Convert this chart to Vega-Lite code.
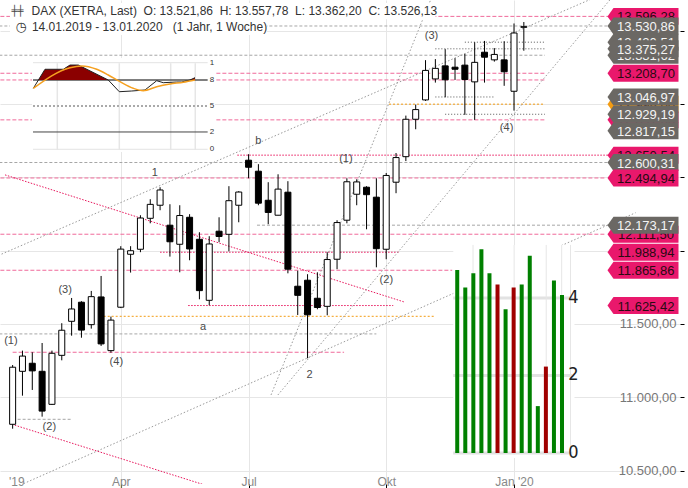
{
"$schema": "https://vega.github.io/schema/vega-lite/v6.json",
"width": 680, "height": 484,
"autosize": {"type": "none"},
"padding": {"left": 0, "top": 0, "right": 8, "bottom": 4},
"background": "white",
"config": {
  "view": {"stroke": null},
  "font": "Liberation Sans",
  "locale": {"number": {"decimal": ",", "thousands": ".", "grouping": [3], "currency": ["", " €"]}}
},
"datasets": {
  "one": [{}],
  "candles": [
    {"date":"2019-01-14","open":10816,"high":11220,"low":10786,"close":11205},
    {"date":"2019-01-21","open":11177,"high":11318,"low":11011,"close":11281},
    {"date":"2019-01-28","open":11232,"high":11307,"low":11050,"close":11180},
    {"date":"2019-02-04","open":11177,"high":11370,"low":10868,"close":10906},
    {"date":"2019-02-11","open":10952,"high":11318,"low":10948,"close":11300},
    {"date":"2019-02-18","open":11286,"high":11505,"low":11252,"close":11457},
    {"date":"2019-02-25","open":11518,"high":11677,"low":11420,"close":11602},
    {"date":"2019-03-04","open":11648,"high":11655,"low":11406,"close":11458},
    {"date":"2019-03-11","open":11495,"high":11725,"low":11468,"close":11686},
    {"date":"2019-03-18","open":11684,"high":11827,"low":11350,"close":11364},
    {"date":"2019-03-25","open":11318,"high":11550,"low":11304,"close":11526},
    {"date":"2019-04-01","open":11614,"high":12030,"low":11608,"close":12010},
    {"date":"2019-04-08","open":11975,"high":12030,"low":11850,"close":11999},
    {"date":"2019-04-15","open":12009,"high":12241,"low":11989,"close":12222},
    {"date":"2019-04-22","open":12220,"high":12350,"low":12186,"close":12315},
    {"date":"2019-04-29","open":12309,"high":12432,"low":12275,"close":12413},
    {"date":"2019-05-06","open":12173,"high":12316,"low":11959,"close":12060},
    {"date":"2019-05-13","open":12043,"high":12309,"low":11852,"close":12239},
    {"date":"2019-05-20","open":12227,"high":12248,"low":11934,"close":12011},
    {"date":"2019-05-27","open":12077,"high":12125,"low":11668,"close":11727},
    {"date":"2019-06-03","open":11661,"high":12098,"low":11627,"close":12045},
    {"date":"2019-06-10","open":12132,"high":12227,"low":12057,"close":12096},
    {"date":"2019-06-17","open":12111,"high":12439,"low":11995,"close":12340},
    {"date":"2019-06-24","open":12309,"high":12405,"low":12193,"close":12399},
    {"date":"2019-07-01","open":12616,"high":12657,"low":12493,"close":12568},
    {"date":"2019-07-08","open":12541,"high":12589,"low":12309,"close":12323},
    {"date":"2019-07-15","open":12343,"high":12466,"low":12180,"close":12260},
    {"date":"2019-07-22","open":12241,"high":12520,"low":12241,"close":12419},
    {"date":"2019-07-29","open":12398,"high":12473,"low":11845,"close":11873},
    {"date":"2019-08-05","open":11757,"high":11863,"low":11561,"close":11695},
    {"date":"2019-08-12","open":11798,"high":11839,"low":11266,"close":11562},
    {"date":"2019-08-19","open":11675,"high":11852,"low":11600,"close":11612},
    {"date":"2019-08-26","open":11620,"high":11989,"low":11559,"close":11939},
    {"date":"2019-09-02","open":11941,"high":12207,"low":11873,"close":12191},
    {"date":"2019-09-09","open":12207,"high":12493,"low":12186,"close":12469},
    {"date":"2019-09-16","open":12384,"high":12486,"low":12309,"close":12468},
    {"date":"2019-09-23","open":12432,"high":12439,"low":12145,"close":12381},
    {"date":"2019-09-30","open":12364,"high":12493,"low":11886,"close":12013},
    {"date":"2019-10-07","open":12009,"high":12529,"low":11941,"close":12512},
    {"date":"2019-10-14","open":12466,"high":12665,"low":12391,"close":12634},
    {"date":"2019-10-21","open":12640,"high":12920,"low":12610,"close":12895},
    {"date":"2019-10-28","open":12895,"high":12995,"low":12827,"close":12961},
    {"date":"2019-11-04","open":13027,"high":13298,"low":13020,"close":13228},
    {"date":"2019-11-11","open":13170,"high":13305,"low":13145,"close":13242},
    {"date":"2019-11-18","open":13259,"high":13373,"low":13045,"close":13164},
    {"date":"2019-11-25","open":13250,"high":13311,"low":13163,"close":13236},
    {"date":"2019-12-02","open":13264,"high":13341,"low":12925,"close":13166},
    {"date":"2019-12-09","open":13150,"high":13420,"low":12891,"close":13283},
    {"date":"2019-12-16","open":13352,"high":13429,"low":13145,"close":13318},
    {"date":"2019-12-23","open":13300,"high":13380,"low":13288,"close":13337},
    {"date":"2019-12-30","open":13300,"high":13427,"low":13123,"close":13219},
    {"date":"2020-01-06","open":13086,"high":13548,"low":12954,"close":13483},
    {"date":"2020-01-13","open":13521.86,"high":13557.78,"low":13362.20,"close":13526.13}
  ],
  "hlines": [
    {"start":"2019-01-01","end":"2020-03-15","value":13596.28,"style":"pinkdash"},
    {"start":"2019-01-01","end":"2020-03-15","value":13530.86,"style":"graydash"},
    {"start":"2019-12-02","end":"2020-01-28","value":13420.51,"style":"blackdot"},
    {"start":"2019-11-11","end":"2020-01-28","value":13375.27,"style":"blackdot"},
    {"start":"2019-01-01","end":"2020-01-28","value":13331.62,"style":"graydash"},
    {"start":"2019-01-01","end":"2020-01-28","value":13208.70,"style":"pinkdash"},
    {"start":"2019-01-01","end":"2020-01-28","value":13163,"style":"pinkdash"},
    {"start":"2019-11-11","end":"2019-12-23","value":13046.97,"style":"blackdot"},
    {"start":"2019-10-09","end":"2020-01-28","value":12998,"style":"orangedot"},
    {"start":"2019-11-18","end":"2020-01-28","value":12929.19,"style":"blackdot"},
    {"start":"2019-01-01","end":"2020-01-28","value":12891,"style":"pinkdash"},
    {"start":"2019-06-23","end":"2020-03-15","value":12650.54,"style":"pinkdot"},
    {"start":"2019-01-01","end":"2020-03-15","value":12600.31,"style":"graydash"},
    {"start":"2019-01-01","end":"2020-03-11","value":12494.94,"style":"pinkdash"},
    {"start":"2019-07-07","end":"2020-03-15","value":12173.17,"style":"graydash"},
    {"start":"2019-01-01","end":"2020-03-11","value":12111.50,"style":"pinkdash"},
    {"start":"2019-04-29","end":"2019-10-16","value":11988.94,"style":"pinkdot"},
    {"start":"2019-01-01","end":"2019-11-23","value":11865.86,"style":"pinkdash"},
    {"start":"2019-05-19","end":"2019-10-12","value":11625.42,"style":"pinkdot"},
    {"start":"2019-03-17","end":"2019-11-11","value":11552,"style":"orangedot"},
    {"start":"2019-01-01","end":"2019-09-30","value":11432,"style":"graydash"},
    {"start":"2019-01-14","end":"2019-09-07","value":11307,"style":"pinkdash"},
    {"start":"2019-01-14","end":"2019-02-25","value":10850,"style":"graydash"}
  ],
  "dlines": [
    {"id":"d1","style":"graydot","date":"2019-01-01T13:00:00Z","value":11957},
    {"id":"d1","style":"graydot","date":"2020-03-04T12:00:00Z","value":13729},
    {"id":"d2","style":"graydot","date":"2018-12-25T13:00:00Z","value":10296},
    {"id":"d2","style":"graydot","date":"2020-04-01T13:40:00Z","value":12258},
    {"id":"d3","style":"pinkdot","date":"2019-01-08T14:00:00Z","value":12516},
    {"id":"d3","style":"pinkdot","date":"2019-10-19T17:00:00Z","value":11650},
    {"id":"d4","style":"pinkdot","date":"2019-01-13T12:00:00Z","value":10816},
    {"id":"d4","style":"pinkdot","date":"2019-06-11T21:00:00Z","value":10366},
    {"id":"s1","style":"graydot","date":"2019-07-16T23:45:00Z","value":11016},
    {"id":"s1","style":"graydot","date":"2019-11-07T15:30:00Z","value":13709},
    {"id":"s2","style":"graydot","date":"2019-07-21T21:00:00Z","value":11016},
    {"id":"s2","style":"graydot","date":"2020-03-14T07:00:00Z","value":13709}
  ],
  "waves": [
    {"date":"2019-01-12T19:00:00Z","value":11384,"label":"(1)"},
    {"date":"2019-02-09T03:00:00Z","value":10797,"label":"(2)"},
    {"date":"2019-02-20T09:00:00Z","value":11732,"label":"(3)"},
    {"date":"2019-03-28T20:00:00Z","value":11241,"label":"(4)"},
    {"date":"2019-04-25T05:00:00Z","value":12529,"label":"1"},
    {"date":"2019-05-29T14:00:00Z","value":11480,"label":"a"},
    {"date":"2019-07-07T22:00:00Z","value":12748,"label":"b"},
    {"date":"2019-08-13T10:00:00Z","value":11152,"label":"2"},
    {"date":"2019-09-08T07:00:00Z","value":12625,"label":"(1)"},
    {"date":"2019-10-07T02:00:00Z","value":11800,"label":"(2)"},
    {"date":"2019-11-08T07:00:00Z","value":13464,"label":"(3)"},
    {"date":"2019-12-31T17:00:00Z","value":12837,"label":"(4)"}
  ],
  "tags": [
    {"value":13596.28,"kind":"pink","z":0},
    {"value":13420.51,"kind":"gray","z":0},
    {"value":13331.62,"kind":"gray","z":0},
    {"value":12998.00,"kind":"orange","z":0},
    {"value":12891.00,"kind":"pink","z":0},
    {"value":12650.54,"kind":"pink","z":0},
    {"value":12111.50,"kind":"pink","z":0},
    {"value":13530.86,"kind":"gray","z":1},
    {"value":13375.27,"kind":"gray","z":1},
    {"value":13208.70,"kind":"pink","z":1},
    {"value":13046.97,"kind":"gray","z":1},
    {"value":12929.19,"kind":"gray","z":1},
    {"value":12817.15,"kind":"gray","z":1},
    {"value":12600.31,"kind":"gray","z":1},
    {"value":12494.94,"kind":"pink","z":1},
    {"value":12173.17,"kind":"gray","z":1},
    {"value":11988.94,"kind":"pink","z":1},
    {"value":11865.86,"kind":"pink","z":1},
    {"value":11625.42,"kind":"pink","z":1}
  ],
  "stochK": [
    {"t":0.09,"v":70.4},{"t":3.59,"v":92.4},{"t":9.06,"v":92.4},{"t":11.06,"v":97.3},{"t":13.54,"v":97.3},
    {"t":22.5,"v":80.0},{"t":25.79,"v":66.5},{"t":29.5,"v":67.3},{"t":33.47,"v":68.5},{"t":36.97,"v":79.2},
    {"t":38.94,"v":76.9},{"t":42.95,"v":77.7},{"t":44.44,"v":77.7},{"t":46.92,"v":80.0},{"t":48.42,"v":82.7}
  ],
  "stochFill": [
    {"seg":1,"t":1.62,"v":80},{"seg":1,"t":3.59,"v":92.4},{"seg":1,"t":9.06,"v":92.4},{"seg":1,"t":11.06,"v":97.3},
    {"seg":1,"t":13.54,"v":97.3},{"seg":1,"t":22.5,"v":80},
    {"seg":2,"t":46.92,"v":80},{"seg":2,"t":48.42,"v":82.7}
  ],
  "stochD": [
    {"t":0.09,"v":70.4},{"t":11.06,"v":94.2},{"t":14.55,"v":96.2},{"t":19.04,"v":92.4},{"t":22.5,"v":85.8},
    {"t":26.0,"v":78.1},{"t":29.98,"v":70.4},{"t":32.96,"v":67.7},{"t":36.97,"v":72.3},{"t":40.94,"v":75.4},
    {"t":44.92,"v":77.4},{"t":48.42,"v":80.0}
  ],
  "bars": [
    {"i":0,"v":4.72,"dir":"up"},{"i":1,"v":4.27,"dir":"up"},{"i":2,"v":4.64,"dir":"up"},{"i":3,"v":5.26,"dir":"up"},
    {"i":4,"v":4.64,"dir":"up"},{"i":5,"v":4.35,"dir":"down"},{"i":6,"v":3.71,"dir":"up"},{"i":7,"v":4.27,"dir":"down"},
    {"i":8,"v":4.35,"dir":"up"},{"i":9,"v":5.09,"dir":"up"},{"i":10,"v":1.21,"dir":"up"},{"i":11,"v":2.23,"dir":"down"},
    {"i":12,"v":4.45,"dir":"up"},{"i":13,"v":4.08,"dir":"up"}
  ]
},
"layer": [
  {
    "layer": [
      {
        "data": {"name": "hlines"},
        "mark": {"type": "rule", "clip": true, "strokeWidth": 1},
        "encoding": {
          "x": {"field": "start", "type": "temporal", "title": null,
            "scale": {"type": "utc", "domain": [{"year":2019,"month":1,"date":8,"hours":13,"minutes":41,"utc":true},{"year":2020,"month":4,"date":29,"hours":15,"minutes":7,"utc":true}]},
            "axis": {
              "values": [{"year":2019,"month":1,"date":16,"hours":15,"utc":true},{"year":2019,"month":4,"date":1,"utc":true},{"year":2019,"month":7,"date":1,"utc":true},{"year":2019,"month":10,"date":7,"utc":true},{"year":2020,"month":1,"date":6,"utc":true}],
              "labelExpr": "utcyear(datum.value)==2019 && utcmonth(datum.value)==0 ? \"'19\" : utcmonth(datum.value)==3 ? 'Apr' : utcmonth(datum.value)==6 ? 'Jul' : utcmonth(datum.value)==9 ? 'Okt' : \"Jan '20\"",
              "domain": false, "grid": true, "gridColor": "#e6e6e6",
              "gridOpacity": {"condition": {"test": "utcyear(datum.value)==2019 && utcmonth(datum.value)==0", "value": 0}, "value": 1},
              "tickOpacity": {"condition": {"test": "utcyear(datum.value)==2019 && utcmonth(datum.value)==0", "value": 0}, "value": 1},
              "tickColor": "#000", "tickSize": 4, "labelPadding": -3, "labelBaseline": "alphabetic",
              "labelColor": "#888", "labelFontSize": 12, "labelFlush": false, "labelOverlap": false, "title": null
            }},
          "x2": {"field": "end"},
          "y": {"field": "value", "type": "quantitative", "title": null,
            "scale": {"domain": [10409, 13708], "nice": false, "zero": false},
            "axis": {"orient": "right", "values": [10500,11000,11500,12000,12500,13000,13500], "format": ",.2f",
              "domain": false, "grid": true, "gridColor": "#e6e6e6", "tickColor": "#000", "tickSize": 4,
              "labelAlign": "right", "labelPadding": -8, "labelColor": "#777", "labelFontSize": 13, "labelBaseline": "middle", "title": null}},
          "color": {"field": "style", "type": "nominal", "legend": null,
            "scale": {"domain": ["pinkdash","pinkdot","graydash","graydot","blackdot","orangedot"], "range": ["#f06a9a","#e8175d","#a6a6a6","#9a9a9a","#555555","#f39c12"]}},
          "strokeDash": {"field": "style", "type": "nominal", "legend": null,
            "scale": {"domain": ["pinkdash","pinkdot","graydash","graydot","blackdot","orangedot"], "range": [[4,2],[1.5,1.5],[3,2],[1.5,2],[1,2],[2,2]]}}
        }
      },
      {
        "data": {"name": "dlines"},
        "mark": {"type": "line", "clip": true, "strokeWidth": 1},
        "encoding": {
          "x": {"field": "date", "type": "temporal", "title": null},
          "y": {"field": "value", "type": "quantitative", "title": null},
          "detail": {"field": "id"},
          "color": {"field": "style", "type": "nominal", "legend": null,
            "scale": {"domain": ["pinkdash","pinkdot","graydash","graydot","blackdot","orangedot"], "range": ["#f06a9a","#e8175d","#a6a6a6","#9a9a9a","#555555","#f39c12"]}},
          "strokeDash": {"field": "style", "type": "nominal", "legend": null,
            "scale": {"domain": ["pinkdash","pinkdot","graydash","graydot","blackdot","orangedot"], "range": [[4,2],[1.5,1.5],[3,2],[1.5,2],[1,2],[2,2]]}}
        }
      },
      {
        "data": {"name": "candles"},
        "mark": {"type": "rule", "color": "#000", "strokeWidth": 1},
        "encoding": {
          "x": {"field": "date", "type": "temporal", "title": null},
          "y": {"field": "low", "type": "quantitative", "title": null},
          "y2": {"field": "high"}
        }
      },
      {
        "data": {"name": "candles"},
        "mark": {"type": "bar", "size": 6, "stroke": "#000", "strokeWidth": 1},
        "encoding": {
          "x": {"field": "date", "type": "temporal", "title": null},
          "y": {"field": "open", "type": "quantitative", "title": null},
          "y2": {"field": "close"},
          "fill": {"condition": {"test": "datum.close >= datum.open", "value": "#ffffff"}, "value": "#000000"}
        }
      },
      {
        "data": {"name": "waves"},
        "mark": {"type": "text", "fontSize": 11, "color": "#4a4a4a", "align": "center", "baseline": "middle"},
        "encoding": {
          "x": {"field": "date", "type": "temporal", "title": null},
          "y": {"field": "value", "type": "quantitative", "title": null},
          "text": {"field": "label"}
        }
      },
      {
        "data": {"name": "one"},
        "mark": {"type": "rect", "color": "#ffffff"},
        "encoding": {
          "x": {"datum": {"year":2019,"month":1,"date":12,"hours":2,"utc":true}, "type": "temporal"},
          "x2": {"datum": {"year":2019,"month":11,"date":11,"hours":3,"utc":true}},
          "y": {"datum": 13688, "type": "quantitative"},
          "y2": {"datum": 13576}
        }
      },
      {
        "data": {"name": "one"},
        "mark": {"type": "rect", "color": "#ffffff"},
        "encoding": {
          "x": {"datum": {"year":2019,"month":1,"date":12,"hours":2,"utc":true}, "type": "temporal"},
          "x2": {"datum": {"year":2019,"month":7,"date":14,"hours":4,"utc":true}},
          "y": {"datum": 13576, "type": "quantitative"},
          "y2": {"datum": 13470}
        }
      },
      {
        "data": {"name": "one"},
        "mark": {"type": "text", "text": "╪╪", "fontSize": 10, "color": "#444", "align": "center", "baseline": "middle", "font": "DejaVu Sans"},
        "encoding": {
          "x": {"datum": {"year":2019,"month":1,"date":17,"hours":10,"utc":true}, "type": "temporal"},
          "y": {"datum": 13630, "type": "quantitative"}
        }
      },
      {
        "data": {"name": "one"},
        "mark": {"type": "text", "text": "DAX (XETRA, Last)\u00a0\u00a0O: 13.521,86\u00a0\u00a0H: 13.557,78\u00a0\u00a0L: 13.362,20\u00a0\u00a0C: 13.526,13", "fontSize": 12, "color": "#333", "align": "left", "baseline": "middle"},
        "encoding": {
          "x": {"datum": {"year":2019,"month":1,"date":27,"hours":12,"utc":true}, "type": "temporal"},
          "y": {"datum": 13630, "type": "quantitative"}
        }
      },
      {
        "data": {"name": "one"},
        "mark": {"type": "text", "text": "◷", "fontSize": 13, "color": "#333", "align": "center", "baseline": "middle", "font": "DejaVu Sans"},
        "encoding": {
          "x": {"datum": {"year":2019,"month":1,"date":20,"hours":4,"utc":true}, "type": "temporal"},
          "y": {"datum": 13521, "type": "quantitative"}
        }
      },
      {
        "data": {"name": "one"},
        "mark": {"type": "text", "text": "14.01.2019 - 13.01.2020\u00a0\u00a0\u00a0(1 Jahr, 1 Woche)", "fontSize": 12, "color": "#333", "align": "left", "baseline": "middle"},
        "encoding": {
          "x": {"datum": {"year":2019,"month":1,"date":27,"hours":17,"utc":true}, "type": "temporal"},
          "y": {"datum": 13521, "type": "quantitative"}
        }
      },
      {
        "data": {"name": "tags"},
        "transform": [{"filter": "datum.z == 0"}],
        "mark": {"type": "point", "shape": "M-1,0L-0.831,-0.239L1,-0.239L1,0.239L-0.831,0.239Z", "size": 5041, "filled": true, "opacity": 1, "strokeWidth": 0},
        "encoding": {
          "x": {"datum": {"year":2020,"month":4,"date":6,"hours":19,"minutes":55,"utc":true}, "type": "temporal"},
          "y": {"field": "value", "type": "quantitative", "title": null},
          "color": {"condition": [{"test": "datum.kind == 'pink'", "value": "#e9186c"}, {"test": "datum.kind == 'orange'", "value": "#f39c12"}], "value": "#6b6864"}
        }
      },
      {
        "data": {"name": "tags"},
        "transform": [{"filter": "datum.z == 0"}],
        "mark": {"type": "text", "fontSize": 13, "align": "center", "baseline": "middle", "dx": 3, "dy": 1},
        "encoding": {
          "x": {"datum": {"year":2020,"month":4,"date":6,"hours":19,"minutes":55,"utc":true}, "type": "temporal"},
          "y": {"field": "value", "type": "quantitative", "title": null},
          "text": {"field": "value", "type": "quantitative", "format": ",.2f"},
          "color": {"condition": {"test": "datum.kind == 'gray'", "value": "#f4f4f4"}, "value": "#2a0a12"}
        }
      },
      {
        "data": {"name": "tags"},
        "transform": [{"filter": "datum.z == 1"}],
        "mark": {"type": "point", "shape": "M-1,0L-0.831,-0.239L1,-0.239L1,0.239L-0.831,0.239Z", "size": 5041, "filled": true, "opacity": 1, "strokeWidth": 0},
        "encoding": {
          "x": {"datum": {"year":2020,"month":4,"date":6,"hours":19,"minutes":55,"utc":true}, "type": "temporal"},
          "y": {"field": "value", "type": "quantitative", "title": null},
          "color": {"condition": [{"test": "datum.kind == 'pink'", "value": "#e9186c"}, {"test": "datum.kind == 'orange'", "value": "#f39c12"}], "value": "#6b6864"}
        }
      },
      {
        "data": {"name": "tags"},
        "transform": [{"filter": "datum.z == 1"}],
        "mark": {"type": "text", "fontSize": 13, "align": "center", "baseline": "middle", "dx": 3, "dy": 1},
        "encoding": {
          "x": {"datum": {"year":2020,"month":4,"date":6,"hours":19,"minutes":55,"utc":true}, "type": "temporal"},
          "y": {"field": "value", "type": "quantitative", "title": null},
          "text": {"field": "value", "type": "quantitative", "format": ",.2f"},
          "color": {"condition": {"test": "datum.kind == 'gray'", "value": "#f4f4f4"}, "value": "#2a0a12"}
        }
      }
    ]
  },
  {
    "layer": [
      {
        "data": {"name": "one"},
        "mark": {"type": "rect", "color": "#ffffff"},
        "encoding": {
          "x": {"datum": -0.3, "type": "quantitative", "scale": {"domain": [-9.863, 193.37], "nice": false, "zero": false}, "axis": null},
          "x2": {"datum": 54.4},
          "y": {"datum": -3.1, "type": "quantitative", "scale": {"domain": [-386.5, 172.4], "nice": false, "zero": false}, "axis": null},
          "y2": {"datum": 105.4}
        }
      },
      {
        "data": {"values": [{"v": 0}, {"v": 100}]},
        "mark": {"type": "rule", "color": "#e3e3e3", "strokeWidth": 1},
        "encoding": {
          "x": {"datum": 0, "type": "quantitative"},
          "x2": {"datum": 52.2},
          "y": {"field": "v", "type": "quantitative"}
        }
      },
      {
        "data": {"values": [{"t": 7.26}, {"t": 25.79}, {"t": 41.15}, {"t": 48.5}]},
        "mark": {"type": "rule", "color": "#e6e6e6", "strokeWidth": 1.5},
        "encoding": {
          "x": {"field": "t", "type": "quantitative"},
          "y": {"datum": -0.8, "type": "quantitative"},
          "y2": {"datum": 99.4}
        }
      },
      {
        "data": {"name": "one"},
        "mark": {"type": "rule", "color": "#555", "strokeWidth": 1.5},
        "encoding": {"x": {"datum": 0, "type": "quantitative"}, "x2": {"datum": 52.2}, "y": {"datum": 80, "type": "quantitative"}}
      },
      {
        "data": {"name": "one"},
        "mark": {"type": "rule", "color": "#aaa", "strokeWidth": 2, "strokeDash": [2, 2]},
        "encoding": {"x": {"datum": 0, "type": "quantitative"}, "x2": {"datum": 52.2}, "y": {"datum": 50, "type": "quantitative"}}
      },
      {
        "data": {"name": "one"},
        "mark": {"type": "rule", "color": "#444", "strokeWidth": 1},
        "encoding": {"x": {"datum": 0, "type": "quantitative"}, "x2": {"datum": 52.2}, "y": {"datum": 20, "type": "quantitative"}}
      },
      {
        "data": {"name": "stochFill"},
        "mark": {"type": "area", "color": "#8b0000", "opacity": 1},
        "encoding": {
          "x": {"field": "t", "type": "quantitative"},
          "y": {"field": "v", "type": "quantitative"},
          "y2": {"datum": 80},
          "detail": {"field": "seg"}
        }
      },
      {
        "data": {"name": "stochK"},
        "mark": {"type": "line", "color": "#222", "strokeWidth": 1},
        "encoding": {
          "x": {"field": "t", "type": "quantitative"},
          "y": {"field": "v", "type": "quantitative"}
        }
      },
      {
        "data": {"name": "stochD"},
        "mark": {"type": "line", "color": "#f5a020", "strokeWidth": 1.5, "interpolate": "monotone"},
        "encoding": {
          "x": {"field": "t", "type": "quantitative"},
          "y": {"field": "v", "type": "quantitative"}
        }
      },
      {
        "data": {"values": [{"v": 100, "l": "1"}, {"v": 80, "l": "8"}, {"v": 50, "l": "5"}, {"v": 20, "l": "2"}, {"v": 0, "l": "0"}]},
        "mark": {"type": "text", "fontSize": 8, "color": "#333", "align": "center", "baseline": "middle"},
        "encoding": {
          "x": {"datum": 53.5, "type": "quantitative"},
          "y": {"field": "v", "type": "quantitative"},
          "text": {"field": "l"}
        }
      }
    ]
  },
  {
    "layer": [
      {
        "data": {"name": "one"},
        "mark": {"type": "rect", "color": "#ffffff"},
        "encoding": {
          "x": {"datum": -0.49, "type": "quantitative", "scale": {"domain": [-56.11, 27.02], "nice": false, "zero": false}, "axis": null},
          "x2": {"datum": 14.55},
          "y": {"datum": -0.13, "type": "quantitative", "scale": {"domain": [-0.8, 11.69], "nice": false, "zero": false}, "axis": null},
          "y2": {"datum": 5.37}
        }
      },
      {
        "data": {"values": [{"v": 0}, {"v": 2}, {"v": 4}]},
        "mark": {"type": "rule", "color": "#e2e2e2", "strokeWidth": 3},
        "encoding": {
          "x": {"datum": -0.5, "type": "quantitative"},
          "x2": {"datum": 14.3},
          "y": {"field": "v", "type": "quantitative"}
        }
      },
      {
        "data": {"values": [{"t": 1.96}, {"t": 7.06}, {"t": 11.04}, {"t": 12.96}, {"t": 14.06}]},
        "mark": {"type": "rule", "color": "#e6e6e6", "strokeWidth": 1},
        "encoding": {
          "x": {"field": "t", "type": "quantitative"},
          "y": {"datum": -0.05, "type": "quantitative"},
          "y2": {"datum": 5.37}
        }
      },
      {
        "data": {"name": "bars"},
        "mark": {"type": "bar", "size": 4},
        "encoding": {
          "x": {"field": "i", "type": "quantitative"},
          "y": {"field": "v", "type": "quantitative"},
          "y2": {"datum": 0},
          "color": {"condition": {"test": "datum.dir == 'down'", "value": "#a00000"}, "value": "#008000"}
        }
      },
      {
        "data": {"values": [{"v": 4, "l": "4"}, {"v": 2, "l": "2"}, {"v": 0, "l": "0"}]},
        "mark": {"type": "text", "fontSize": 18, "color": "#222", "align": "center", "baseline": "middle", "font": "DejaVu Sans Condensed, Liberation Sans"},
        "encoding": {
          "x": {"datum": 14.43, "type": "quantitative"},
          "y": {"field": "v", "type": "quantitative"},
          "text": {"field": "l"}
        }
      }
    ]
  }
],
"resolve": {"scale": {"x": "independent", "y": "independent", "color": "independent", "strokeDash": "independent"}}
}
